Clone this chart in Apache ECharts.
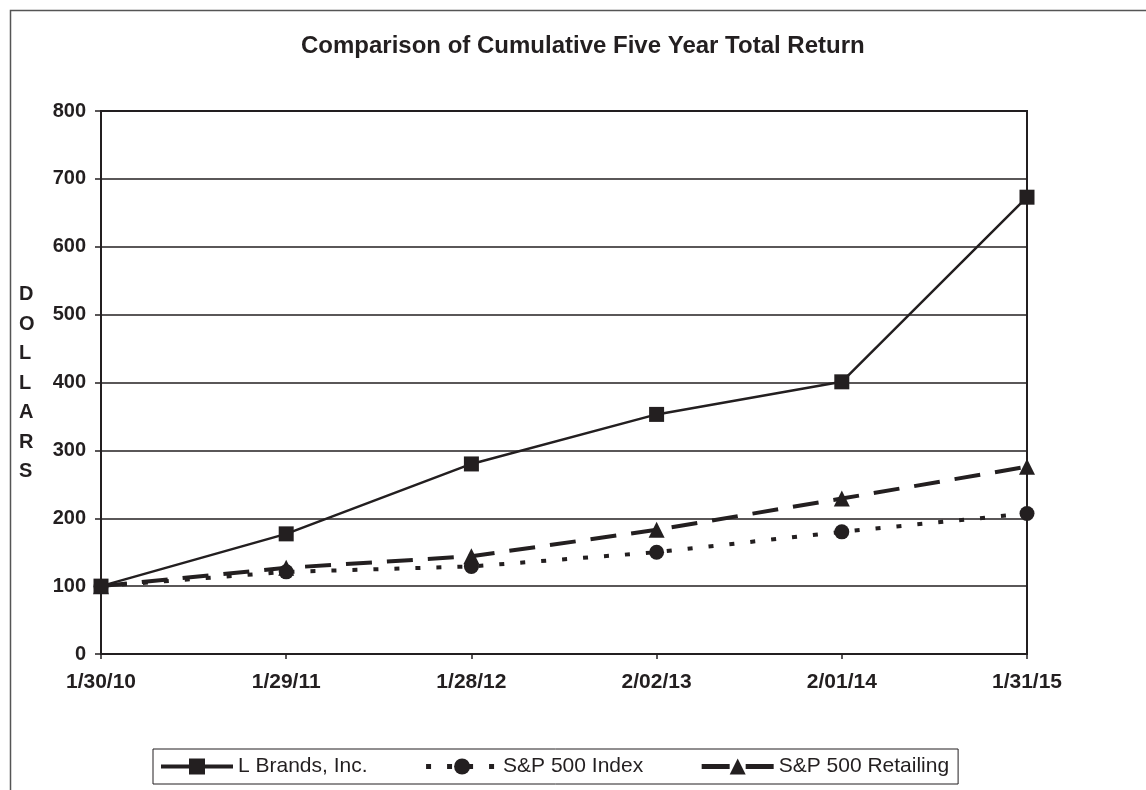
<!DOCTYPE html>
<html>
<head>
<meta charset="utf-8">
<script src="https://cdn.jsdelivr.net/npm/echarts@6/dist/echarts.min.js"></script>
<style>
  html, body { margin: 0; padding: 0; background: #fff; }
  #chart { width: 1146px; height: 790px; }
</style>
</head>
<body>
<div id="chart"></div>
<script>
let myChart = echarts.init(document.getElementById('chart'));

const ink = '#231f20';
const fontFamily = '"Liberation Sans", Arial, sans-serif';

// data
const dates = ['1/30/10', '1/29/11', '1/28/12', '2/02/13', '2/01/14', '1/31/15'];
const lBrands = [100, 177, 280, 353, 401, 673];
const sp500 = [100, 121, 129, 150, 180, 207];
const sp500Retailing = [100, 127, 144, 183, 229, 276];

const retailDash = [26, 15];
const indexDots = [5, 16];

let option = {
    animation: false,
    backgroundColor: '#fff',
    textStyle: {fontFamily: fontFamily, color: ink},
    title: {
        text: 'Comparison of Cumulative Five Year Total Return',
        left: 296,
        top: 29,
        textStyle: {fontSize: 24, fontWeight: 'bold', color: ink, fontFamily: fontFamily}
    },
    graphic: [
        {
            // outer frame, open past the right and bottom edge
            type: 'rect',
            left: 8,
            top: 8,
            shape: {width: 1300, height: 1000},
            style: {fill: 'none', stroke: '#555', lineWidth: 1.5},
            silent: true
        },
        {
            type: 'text',
            left: 19,
            top: 280,
            style: {
                text: 'D\nO\nL\nL\nA\nR\nS',
                font: 'bold 20px ' + fontFamily,
                fill: ink,
                lineHeight: 29.5,
                align: 'center'
            }
        }
    ],
    legend: {
        left: 153,
        top: 749,
        padding: [7, 9, 7, 6],
        itemWidth: 72,
        itemHeight: 20,
        itemGap: 56,
        borderColor: ink,
        borderWidth: 1,
        textStyle: {fontSize: 21, color: ink, fontFamily: fontFamily},
        data: [
            {name: 'L Brands, Inc.', lineStyle: {width: 4, type: 'solid', color: ink}},
            {name: 'S&P 500 Index', lineStyle: {width: 5, type: indexDots, color: ink}},
            {name: 'S&P 500 Retailing', lineStyle: {width: 5, type: [28, 16], color: ink}}
        ]
    },
    grid: {
        left: 101,
        right: 119,
        top: 111,
        bottom: 136,
        show: true,
        borderColor: ink,
        borderWidth: 2
    },
    xAxis: {
        type: 'category',
        data: dates,
        boundaryGap: false,
        axisLine: {lineStyle: {color: ink, width: 2}},
        axisTick: {show: true, length: 5, lineStyle: {color: ink, width: 1.5}},
        axisLabel: {
            fontSize: 21, fontWeight: 'bold', color: ink, margin: 18,
            fontFamily: fontFamily, showMinLabel: true, showMaxLabel: true
        }
    },
    yAxis: {
        type: 'value',
        min: 0,
        max: 800,
        interval: 100,
        axisLine: {show: true, lineStyle: {color: ink, width: 2}},
        axisTick: {show: true, length: 6, lineStyle: {color: ink, width: 1.5}},
        axisLabel: {fontSize: 20, fontWeight: 'bold', color: ink, margin: 15, fontFamily: fontFamily},
        splitLine: {lineStyle: {color: ink, width: 1.5}}
    },
    series: [
        {
            name: 'S&P 500 Retailing',
            type: 'line',
            data: sp500Retailing,
            symbol: 'triangle',
            symbolSize: 16,
            itemStyle: {color: ink},
            lineStyle: {color: ink, width: 4, type: retailDash}
        },
        {
            name: 'S&P 500 Index',
            type: 'line',
            data: sp500,
            symbol: 'circle',
            symbolSize: 15,
            itemStyle: {color: ink},
            lineStyle: {color: ink, width: 4, type: indexDots}
        },
        {
            name: 'L Brands, Inc.',
            type: 'line',
            data: lBrands,
            symbol: 'rect',
            symbolSize: 15,
            itemStyle: {color: ink},
            lineStyle: {color: ink, width: 2.5}
        }
    ]
};

myChart.setOption(option);
</script>
</body>
</html>
